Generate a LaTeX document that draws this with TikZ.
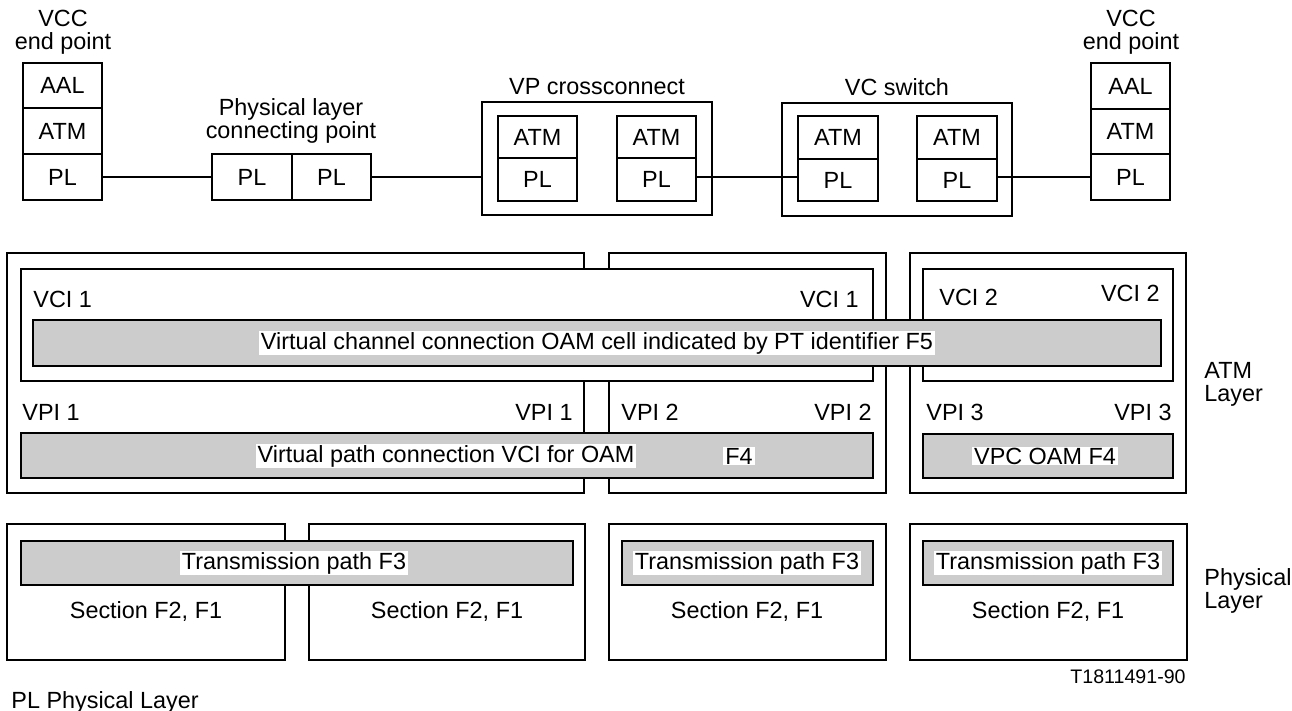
\documentclass[tikz,border=0pt]{standalone}
\usepackage{fontspec}
\setmainfont{Liberation Sans}
\usetikzlibrary{fit}
\tikzstyle{frame} = [rectangle, draw, inner sep=0pt, line width=0.6pt]
\tikzstyle{cell} = [frame]
\tikzstyle{bar} = [frame, fill=black!20]
\tikzstyle{tag} = [fill=white, inner xsep=1pt, inner ysep=0.5pt]
\tikzstyle{txt} = [inner sep=1pt]
\tikzstyle{line} = [draw, line width=0.6pt]

\begin{document}
\begin{tikzpicture}[x=0.5pt, y=-0.5pt, font=\fontsize{11.7}{11.5}\selectfont]
\useasboundingbox (0,0) rectangle (1292,711);
% top row
\node [txt, align=center] (lvcc) at (63,32) {VCC\\end point};
\node [cell, fit={(23,63) (102,108)}, label=center:AAL] (laal) {};
\node [cell, fit={(23,108) (102,154)}, label=center:ATM] (latm) {};
\node [cell, fit={(23,154) (102,200)}, label=center:PL] (lpl) {};
\node [txt, align=center] (plcp) at (291,121) {Physical layer\\connecting point};
\node [cell, fit={(212,154) (292,200)}, label=center:PL] (plcpa) {};
\node [cell, fit={(292,154) (371,200)}, label=center:PL] (plcpb) {};
\node [txt] (vpxname) at (597,87) {VP crossconnect};
\node [frame, fit={(482,102) (712,215)}] (vpx) {};
\node [cell, fit={(498,116) (577,158)}, label=center:ATM] (vpxlatm) {};
\node [cell, fit={(498,158) (577,201)}, label=center:PL] (vpxlpl) {};
\node [cell, fit={(617,116) (696,158)}, label=center:ATM] (vpxratm) {};
\node [cell, fit={(617,158) (696,201)}, label=center:PL] (vpxrpl) {};
\node [txt] (vcsname) at (897,87) {VC switch};
\node [frame, fit={(782,103) (1012,216)}] (vcs) {};
\node [cell, fit={(798,116) (878,159)}, label=center:ATM] (vcslatm) {};
\node [cell, fit={(798,159) (878,201)}, label=center:PL] (vcslpl) {};
\node [cell, fit={(917,116) (997,159)}, label=center:ATM] (vcsratm) {};
\node [cell, fit={(917,159) (997,201)}, label=center:PL] (vcsrpl) {};
\node [txt, align=center] (rvcc) at (1131,32) {VCC\\end point};
\node [cell, fit={(1091,63) (1170,109)}, label=center:AAL] (raal) {};
\node [cell, fit={(1091,109) (1170,154)}, label=center:ATM] (ratm) {};
\node [cell, fit={(1091,154) (1170,200)}, label=center:PL] (rpl) {};
\path [line] (lpl.east) -- (lpl.east -| plcpa.west);
\path [line] (plcpb.east) -- (plcpb.east -| vpx.west);
\path [line] (vpxrpl.east |- plcpb.east) -- (vcslpl.west |- plcpb.east);
\path [line] (vcsrpl.east |- rpl.west) -- (rpl.west);
% ATM layer
\node [frame, fit={(7,253) (584,493)}] (vp1) {};
\node [frame, fit={(609,253) (886,493)}] (vp2) {};
\node [frame, fit={(910,253) (1186,493)}] (vp3) {};
\node [frame, fill=white, fit={(21,269) (873,381)}] (vc1) {};
\node [frame, fill=white, fit={(923,269) (1173,381)}] (vc2) {};
\node [txt, anchor=west] (vci1l) at (31,299) {VCI 1};
\node [txt, anchor=east] (vci1r) at (861,299) {VCI 1};
\node [txt, anchor=west] (vci2l) at (937,297) {VCI 2};
\node [txt, anchor=east] (vci2r) at (1162,293) {VCI 2};
\node [bar, fit={(33,320) (1161,366)}] (f5) {};
\node [tag] (f5text) at (597,343) {Virtual channel connection OAM cell indicated by PT identifier F5};
\node [txt, anchor=west] (vpi1l) at (20,412) {VPI 1};
\node [txt, anchor=east] (vpi1r) at (575,412) {VPI 1};
\node [txt, anchor=west] (vpi2l) at (619,412) {VPI 2};
\node [txt, anchor=east] (vpi2r) at (874,412) {VPI 2};
\node [txt, anchor=west] (vpi3l) at (924,412) {VPI 3};
\node [txt, anchor=east] (vpi3r) at (1174,412) {VPI 3};
\node [bar, fit={(21,433) (873,478)}] (f4) {};
\node [tag] (f4text) at (446,456) {Virtual path connection VCI for OAM};
\node [tag] (f4end) at (739,456) {F4};
\node [bar, fit={(923,434) (1173,478)}] (vpc) {};
\node [tag] (vpctext) at (1045,456) {VPC OAM F4};
\node [txt, anchor=west, align=left] (atmlayer) at (1202,384) {ATM\\Layer};
% physical layer
\node [frame, fit={(7,524) (285,660)}] (seca) {};
\node [frame, fit={(309,524) (585,660)}] (secb) {};
\node [frame, fit={(609,524) (886,660)}] (secc) {};
\node [frame, fit={(910,524) (1187,660)}] (secd) {};
\node [bar, fit={(21,541) (573,585)}] (f3ab) {};
\node [tag] (f3abtext) at (294,563) {Transmission path F3};
\node [bar, fit={(622,541) (873,585)}] (f3c) {};
\node [tag] (f3ctext) at (747,563) {Transmission path F3};
\node [bar, fit={(923,541) (1173,585)}] (f3d) {};
\node [tag] (f3dtext) at (1048,563) {Transmission path F3};
\node [txt] (secatext) at (146,612) {Section F2, F1};
\node [txt] (secbtext) at (447,612) {Section F2, F1};
\node [txt] (secctext) at (747,612) {Section F2, F1};
\node [txt] (secdtext) at (1048,612) {Section F2, F1};
\node [txt, anchor=west, align=left] (phylayer) at (1202,591) {Physical\\Layer};
\node [txt, anchor=east, font=\fontsize{9.8}{11}\selectfont] (figno) at (1188,677) {T1811491-90};
\node [txt, anchor=west] (legend) at (9,702) {PL Physical Layer};
\end{tikzpicture}
\end{document}
